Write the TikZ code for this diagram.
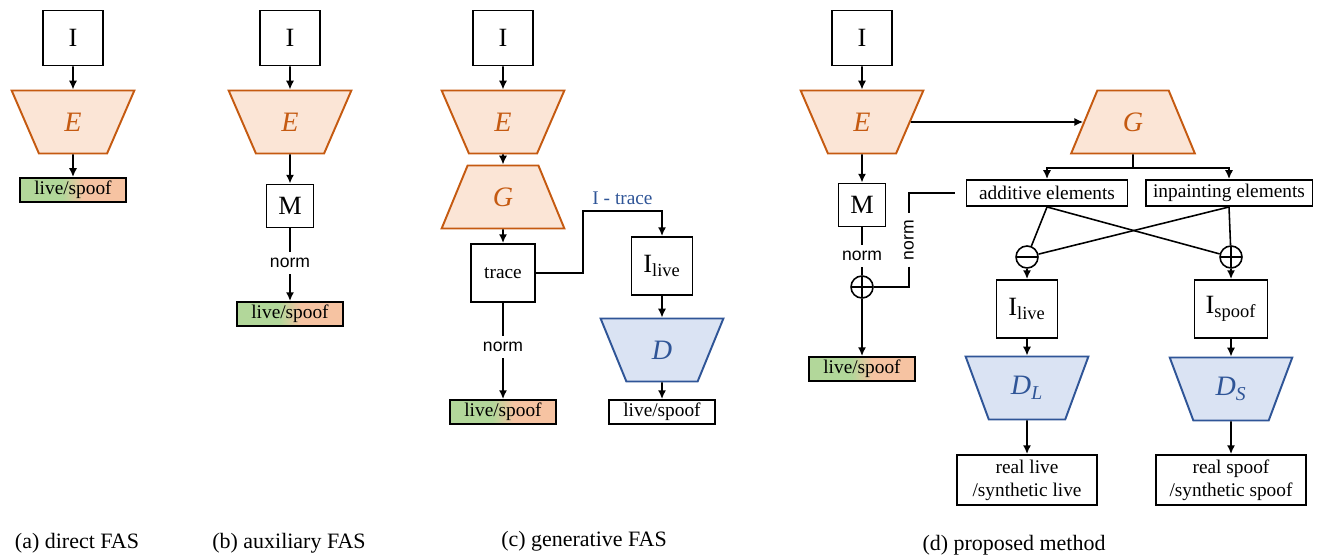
\documentclass[tikz,border=0pt]{standalone}
\usepackage{fontspec}
\setmainfont{Liberation Serif}
\setsansfont{Liberation Sans}
\usetikzlibrary{arrows.meta}
\usetikzlibrary{shapes.geometric}
\tikzset{>={Latex[length=5pt, width=4.6pt]}}

\definecolor{eorange}{HTML}{C55A11}
\definecolor{eorangefill}{HTML}{FBE5D6}
\definecolor{dblue}{HTML}{2F5597}
\definecolor{dbluefill}{HTML}{DAE3F3}
\definecolor{lsgreen}{HTML}{B2D79A}
\definecolor{lsorange}{HTML}{F6C3A2}

\pgfdeclarehorizontalshading{livespoof}{100bp}{color(0bp)=(lsgreen); color(25bp)=(lsgreen); color(45bp)=(lsgreen); color(55bp)=(lsorange); color(75bp)=(lsorange); color(100bp)=(lsorange)}

\tikzset{
	box/.style = {draw, line width = 1.1pt, fill = white, inner sep = 0pt, align = center, font = {\fontsize{11pt}{13pt}\selectfont}},
	bigbox/.style = {box, minimum width = 1.2cm, minimum height = 1.1cm, font = {\fontsize{15pt}{18pt}\selectfont}},
	mbox/.style = {bigbox, minimum width = 0.94cm, minimum height = 0.86cm},
	lsbox/.style = {draw, line width = 1.1pt, inner sep = 0pt, minimum width = 2.12cm, minimum height = 0.48cm, shade, shading = livespoof, font = {\fontsize{11pt}{13pt}\selectfont}},
	enc/.style = {trapezium, trapezium stretches = true, trapezium angle = 69, shape border rotate = 180, draw = eorange, fill = eorangefill, line width = 1.1pt, minimum width = 2.46cm, minimum height = 1.26cm, text = eorange, font = {\fontsize{16pt}{18pt}\selectfont\itshape}},
	gen/.style = {enc, shape border rotate = 0},
	dis/.style = {enc, draw = dblue, fill = dbluefill, text = dblue},
	opc/.style = {circle, draw, line width = 0.9pt, minimum size = 0.44cm, inner sep = 0pt},
	plusop/.style = {opc, path picture = {\draw[line width = 0.9pt] (path picture bounding box.north) -- (path picture bounding box.south) (path picture bounding box.west) -- (path picture bounding box.east);}},
	minusop/.style = {opc, path picture = {\draw[line width = 0.9pt] (path picture bounding box.west) -- (path picture bounding box.east);}},
	normtxt/.style = {font = {\fontsize{10pt}{12pt}\sffamily\selectfont}},
	captxt/.style = {font = {\fontsize{12.5pt}{15pt}\selectfont}}
}

\begin{document}
\begin{tikzpicture}[x = 0.02cm, y = -0.02cm, line width = 0.9pt]
\useasboundingbox (0,0) rectangle (1334,560);

% (a) direct FAS
\node[bigbox] (Ia) at (73, 38) {I};
\node[enc] (Ea) at (73, 122) {E};
\node[lsbox] (LSa) at (73, 190) {live/spoof};
\draw[->] (Ia) -- (Ea);
\draw[->] (Ea) -- (LSa);
\node[captxt] (CAPa) at (77, 543) {(a) direct FAS};

% (b) auxiliary FAS
\node[bigbox] (Ib) at (290, 38) {I};
\node[enc] (Eb) at (290, 122) {E};
\node[mbox] (Mb) at (290, 206) {M};
\node[normtxt] (NORMb) at (290, 263) {norm};
\node[lsbox] (LSb) at (290, 314) {live/spoof};
\draw[->] (Ib) -- (Eb);
\draw[->] (Eb) -- (Mb);
\draw (Mb) -- (NORMb);
\draw[->] (NORMb) -- (LSb);
\node[captxt] (CAPb) at (289, 543) {(b) auxiliary FAS};

% (c) generative FAS
\node[bigbox] (Ic) at (503, 38) {I};
\node[enc] (Ec) at (503, 122) {E};
\node[gen] (Gc) at (503, 197) {G};
\node[box, minimum width = 1.28cm, minimum height = 1.16cm] (TRACE) at (503, 273) {trace};
\node[normtxt] (NORMc) at (503, 347) {norm};
\node[lsbox] (LSc) at (503, 412) {live/spoof};
\node[bigbox, minimum width = 1.22cm, minimum height = 1.16cm] (ILIVEc) at (662, 266) {I\textsubscript{live}};
\node[dis] (Dc) at (662, 350) {D};
\node[box, minimum width = 2.12cm, minimum height = 0.48cm] (LSw) at (662, 412) {live/spoof};
\coordinate (BEND) at (583, 211);
\draw[->] (Ic) -- (Ec);
\draw[->] (Ec) -- (Gc);
\draw[->] (Gc) -- (TRACE);
\draw (TRACE) -- (NORMc);
\draw[->] (NORMc) -- (LSc);
\draw[->] (TRACE.east) -| (BEND) -|
	node[pos = 0.25, above, text = dblue, font = {\fontsize{11pt}{13pt}\selectfont}] {I - trace}
	(ILIVEc.north);
\draw[->] (ILIVEc) -- (Dc);
\draw[->] (Dc) -- (LSw);
\node[captxt] (CAPc) at (584, 541) {(c) generative FAS};

% (d) proposed method
\node[bigbox] (Id) at (862, 38) {I};
\node[enc] (Ed) at (862, 122) {E};
\node[gen, minimum width = 2.48cm] (Gd) at (1133, 122) {G};
\node[mbox] (Md) at (862, 205) {M};
\node[normtxt] (NORMd) at (862, 256) {norm};
\node[plusop] (PLUSd) at (862, 287) {};
\node[lsbox] (LSd) at (862, 369) {live/spoof};
\node[normtxt, rotate = 90] (NORMr) at (909, 240) {norm};

\node[box, minimum width = 3.22cm, minimum height = 0.52cm] (ADD) at (1047, 193) {additive elements};
\node[box, minimum width = 3.34cm, minimum height = 0.52cm] (INP) at (1229, 193) {inpainting elements};
\coordinate (SPLIT) at (1133, 168);

\node[minusop] (MINUS) at (1027, 257) {};
\node[plusop] (PLUS) at (1231, 257) {};
\node[bigbox, minimum width = 1.22cm, minimum height = 1.16cm] (ILIVEd) at (1027, 309) {I\textsubscript{live}};
\node[bigbox, minimum width = 1.46cm, minimum height = 1.16cm] (ISPOOF) at (1231, 309) {I\textsubscript{spoof}};
\node[dis] (DL) at (1027, 388) {D\textsubscript{\itshape L}};
\node[dis] (DS) at (1231, 389) {D\textsubscript{\itshape S}};
\node[box, minimum width = 2.8cm, minimum height = 1cm] (RL) at (1027, 480) {real live \\ /synthetic live};
\node[box, minimum width = 3cm, minimum height = 1cm] (RS) at (1231, 480) {real spoof \\ /synthetic spoof};

\draw[->] (Id) -- (Ed);
\draw[->] (Ed) -- (Gd);
\draw[->] (Ed) -- (Md);
\draw (Md) -- (NORMd);
\draw (NORMd) -- (PLUSd);
\draw[->] (PLUSd) -- (LSd);
\draw[shorten <= 0.22cm] (ADD.west) -| (NORMr);
\draw (NORMr) |- (PLUSd);

\draw (Gd.south) -- (SPLIT);
\draw[->] (SPLIT) -| (ADD.north);
\draw[->] (SPLIT) -| (INP.north);

\draw (ADD.south) -- (MINUS);
\draw (ADD.south) -- (PLUS);
\draw (INP.south) -- (MINUS);
\draw (INP.south) -- (PLUS);

\draw[->] (MINUS) -- (ILIVEd);
\draw[->] (PLUS) -- (ISPOOF);
\draw[->] (ILIVEd) -- (DL);
\draw[->] (ISPOOF) -- (DS);
\draw[->] (DL) -- (RL);
\draw[->] (DS) -- (RS);
\node[captxt] (CAPd) at (1014, 545) {(d) proposed method};
\end{tikzpicture}
\end{document}
